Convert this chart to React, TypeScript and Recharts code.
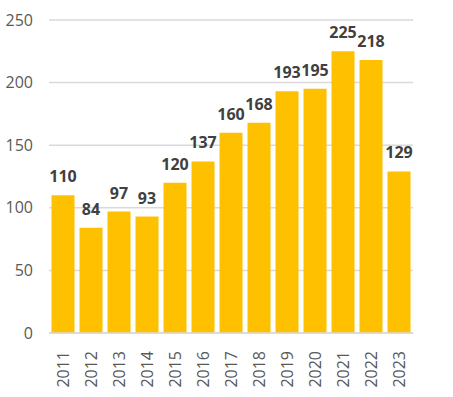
import { BarChart, Bar, XAxis, YAxis, CartesianGrid, LabelList } from "recharts";

const years = ["2011", "2012", "2013", "2014", "2015", "2016", "2017", "2018", "2019", "2020", "2021", "2022", "2023"];
const counts = [110, 84, 97, 93, 120, 137, 160, 168, 193, 195, 225, 218, 129];
const yTicks = [0, 50, 100, 150, 200, 250];

const data = years.map((year, i) => ({ year, value: counts[i] }));

const FONT = "'Open Sans', 'Liberation Sans', sans-serif";

function YearTick({ x, y, payload }: any) {
  return (
    <text
      x={x}
      y={y + 10}
      transform={`rotate(-90, ${x}, ${y + 10})`}
      textAnchor="end"
      dy="0.35em"
      fill="#595959"
      fontSize={16}
      fontFamily={FONT}
    >
      {payload.value}
    </text>
  );
}

export default function App() {
  return (
    <div style={{ position: "absolute", left: 0, top: 0, background: "#fff" }}>
      <BarChart
        width={453}
        height={397}
        data={data}
        margin={{ top: 20, right: 40, bottom: 0, left: 0 }}
        barCategoryGap="9%"
      >
        <CartesianGrid vertical={false} stroke="#d9d9d9" strokeWidth={1.5} />
        <XAxis
          dataKey="year"
          height={64}
          axisLine={{ stroke: "#d9d9d9", strokeWidth: 1.5 }}
          tickLine={false}
          interval={0}
          tick={<YearTick />}
        />
        <YAxis
          width={49}
          domain={[0, 250]}
          ticks={yTicks}
          axisLine={false}
          tickLine={false}
          tickSize={0}
          tickMargin={16}
          tick={{ fill: "#595959", fontSize: 16, fontFamily: FONT }}
        />
        <Bar dataKey="value" fill="#FFC000" isAnimationActive={false}>
          <LabelList
            dataKey="value"
            position="top"
            offset={13}
            fill="#404040"
            fontSize={16}
            fontWeight="bold"
            fontFamily={FONT}
          />
        </Bar>
      </BarChart>
    </div>
  );
}
